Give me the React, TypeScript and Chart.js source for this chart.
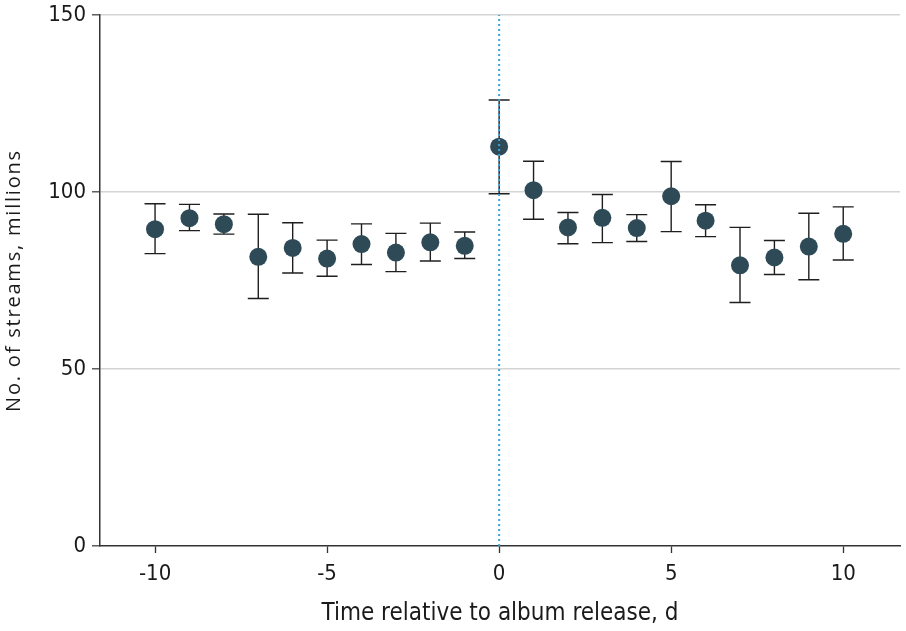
import React, { useEffect, useRef } from "react";
import { Chart, registerables } from "chart.js";

Chart.register(...registerables);

const days = [-10, -9, -8, -7, -6, -5, -4, -3, -2, -1, 0, 1, 2, 3, 4, 5, 6, 7, 8, 9, 10];
const means = [89.5, 92.6, 90.9, 81.7, 84.2, 81.2, 85.3, 82.9, 85.8, 84.8, 112.8, 100.5, 90.0, 92.7, 89.8, 98.8, 91.9, 79.3, 81.5, 84.6, 88.2];
const upper = [96.7, 96.5, 93.8, 93.7, 91.3, 86.4, 91.0, 88.3, 91.2, 88.7, 126.0, 108.7, 94.2, 99.3, 93.6, 108.6, 96.4, 90.0, 86.3, 94.0, 95.8];
const lower = [82.6, 89.1, 88.1, 69.9, 77.1, 76.2, 79.5, 77.5, 80.5, 81.2, 99.5, 92.3, 85.4, 85.7, 86.0, 88.8, 87.4, 68.8, 76.7, 75.2, 80.8];
const xTicks = [-10, -5, 0, 5, 10];
const yTicks = [0, 50, 100, 150];
const releaseDay = 0;
const xTitle = "Time relative to album release, d";
const yTitle = "No. of streams, millions";

const errorBarPlugin = {
  id: "errorBars",
  beforeDatasetsDraw(chart: any) {
    const { ctx, scales } = chart;
    const xs = scales.x;
    const ys = scales.y;
    ctx.save();
    ctx.strokeStyle = "#1f1f1f";
    ctx.lineWidth = 1.4;
    const cap = 10.5;
    days.forEach((d, i) => {
      const px = xs.getPixelForValue(d);
      const pu = ys.getPixelForValue(upper[i]);
      const pl = ys.getPixelForValue(lower[i]);
      ctx.beginPath();
      ctx.moveTo(px, pu);
      ctx.lineTo(px, pl);
      ctx.moveTo(px - cap, pu);
      ctx.lineTo(px + cap, pu);
      ctx.moveTo(px - cap, pl);
      ctx.lineTo(px + cap, pl);
      ctx.stroke();
    });
    ctx.restore();
  },
};

const yTitlePlugin = {
  id: "yTitle",
  afterDraw(chart: any) {
    const { ctx, chartArea } = chart;
    ctx.save();
    ctx.translate(14, (chartArea.top + chartArea.bottom) / 2);
    ctx.rotate(-Math.PI / 2);
    ctx.font = "20px 'Open Sans', 'Noto Sans', sans-serif";
    (ctx as any).letterSpacing = "1.8px";
    ctx.fillStyle = "#1a1a1a";
    ctx.textAlign = "center";
    ctx.textBaseline = "middle";
    ctx.fillText(yTitle, 0, 0);
    ctx.restore();
  },
};

export default function App() {
  const ref = useRef<HTMLCanvasElement | null>(null);
  useEffect(() => {
    if (!ref.current) return;
    const fam = "'DejaVu Sans Condensed', 'DejaVu Sans', sans-serif";
    const tickFont = { family: fam, size: 22 };
    const chart = new Chart(ref.current, {
      type: "scatter",
      data: {
        datasets: [
          {
            type: "line",
            data: [
              { x: releaseDay, y: yTicks[0] },
              { x: releaseDay, y: yTicks[yTicks.length - 1] },
            ],
            borderColor: "#37a6e0",
            borderWidth: 2,
            borderDash: [2, 3],
            pointRadius: 0,
            fill: false,
          } as any,
          {
            data: days.map((d, i) => ({ x: d, y: means[i] })),
            backgroundColor: "#2e4a57",
            borderWidth: 0,
            pointRadius: 9,
            pointHoverRadius: 9,
          },
        ],
      },
      options: {
        animation: false,
        responsive: true,
        maintainAspectRatio: false,
        layout: { autoPadding: false, padding: { top: 15, right: 6, left: 0, bottom: 0 } },
        plugins: { legend: { display: false }, tooltip: { enabled: false } },
        scales: {
          x: {
            type: "linear",
            min: -11.6,
            max: 11.65,
            afterFit: (s: any) => {
              s.height = 85;
            },
            afterBuildTicks: (s: any) => {
              s.ticks = xTicks.map((v) => ({ value: v }));
            },
            grid: {
              drawOnChartArea: false,
              drawTicks: true,
              tickLength: 7,
              tickColor: "#333",
              tickWidth: 1.3,
            },
            border: { color: "#333", width: 1.5 },
            ticks: {
              font: tickFont,
              color: "#1a1a1a",
              padding: 8,
              maxRotation: 0,
              callback: (v: any) => String(v),
            },
            title: {
              display: true,
              text: xTitle,
              font: { family: fam, size: 24 },
              color: "#1a1a1a",
              padding: { top: 0, bottom: 3 },
            },
          },
          y: {
            min: 0,
            max: 150,
            afterFit: (s: any) => {
              s.width = 100;
            },
            afterBuildTicks: (s: any) => {
              s.ticks = yTicks.map((v) => ({ value: v }));
            },
            grid: {
              color: (c: any) => (c.tick && c.tick.value === 0 ? "rgba(0,0,0,0)" : "#d4d4d4"),
              lineWidth: 1.6,
              drawTicks: true,
              tickLength: 8,
              tickColor: "#444",
              tickWidth: 1.3,
            },
            border: { color: "#333", width: 1.5 },
            ticks: {
              font: { family: fam, size: 22, lineHeight: 0.8 },
              color: "#1a1a1a",
              padding: 6,
            },
            title: { display: false },
          },
        },
      },
      plugins: [errorBarPlugin, yTitlePlugin],
    });
    return () => chart.destroy();
  }, []);
  return (
    <div style={{ position: "fixed", left: 0, top: 0, width: 906, height: 631, background: "#fff" }}>
      <canvas ref={ref} />
    </div>
  );
}
